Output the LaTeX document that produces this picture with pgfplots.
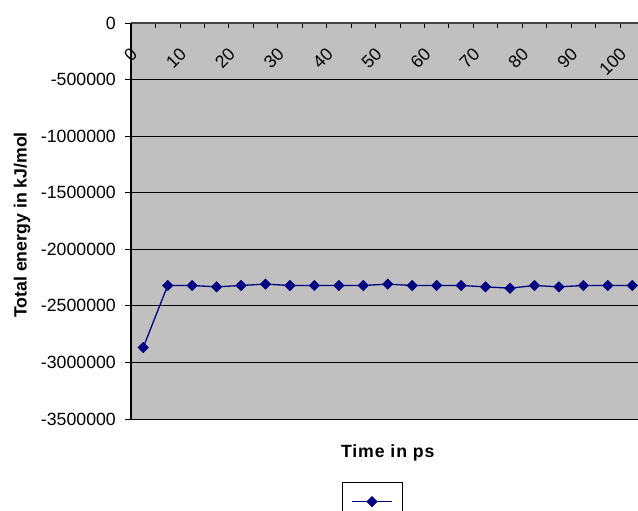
\documentclass[border=0pt]{standalone}
\usepackage{fontspec}
\setmainfont{Liberation Sans}
\usepackage{pgfplots}
\pgfplotsset{compat=1.18}
\definecolor{plotgray}{RGB}{192,192,192}
\definecolor{exnavy}{RGB}{0,0,128}
\definecolor{bordergray}{RGB}{128,128,128}
\definecolor{axisgray}{RGB}{70,70,70}
\begin{document}
\fontsize{17.7bp}{21bp}\selectfont
\begin{tikzpicture}
\begin{axis}[
  at={(131bp,92bp)}, anchor=south west,
  scale only axis, width=513.5bp, height=396bp,
  xmin=-2.5, xmax=102.5, ymin=-3500000, ymax=0,
  axis x line*=top, axis y line*=left,
  axis background/.style={fill=plotgray, draw=bordergray, line width=1bp},
  x axis line style={draw=axisgray, line width=1.2bp},
  y axis line style={draw=black, line width=1.2bp},
  xtick={0,10,...,100},
  minor xtick={-2.5,2.5,...,102.5},
  major x tick style={draw=none},
  minor x tick style={draw=black, line width=0.8bp},
  minor tick length=5bp,
  xtick align=inside,
  xticklabel style={inner sep=0pt, xshift=-9bp, yshift=-28bp, rotate=45, anchor=east},
  ytick={-3500000,-3000000,...,0},
  ytick align=outside,
  major tick length=6bp,
  major y tick style={draw=black, line width=0.8bp},
  yticklabel style={inner sep=0pt, xshift=-9bp, /pgf/number format/fixed, /pgf/number format/1000 sep={}},
  scaled y ticks=false,
  /pgf/number format/assume math mode=true,
  ymajorgrids,
  major grid style={draw=black, line width=0.8bp},
  xlabel={{\bfseries\addfontfeatures{LetterSpace=5}Time in ps}},
  xlabel style={at={(axis description cs:0.5,-0.085)}, anchor=center},
  ylabel={\bfseries Total energy in kJ/mol},
  ylabel style={at={(axis description cs:-0.2123,0.49)}, anchor=center},
  legend style={at={(axis description cs:0.4703,-0.159)}, anchor=north, draw=black, fill=white, line width=0.8bp, inner xsep=8.5bp, inner ysep=14bp, nodes={inner sep=0pt}, /tikz/every even column/.style={column sep=0pt}},
  legend image code/.code={\draw[mark repeat=2, mark phase=2] plot coordinates {(0bp,0bp) (20bp,0bp) (40bp,0bp)};},
]
\addplot[color=exnavy, line width=1.3bp, mark=square*, mark size=3.7bp, mark options={rotate=45, fill=exnavy, draw=exnavy, line width=0.5bp}] table {
x y
0 -2868000
5 -2320000
10 -2320000
15 -2332000
20 -2320000
25 -2308000
30 -2320000
35 -2320000
40 -2320000
45 -2320000
50 -2308000
55 -2320000
60 -2320000
65 -2320000
70 -2332000
75 -2344000
80 -2320000
85 -2332000
90 -2320000
95 -2320000
100 -2320000
};
\addlegendentry{\mbox{}}
\end{axis}
\pgfresetboundingbox
\path[use as bounding box] (0bp,0bp) rectangle (638bp,511bp);
\end{tikzpicture}
\end{document}
